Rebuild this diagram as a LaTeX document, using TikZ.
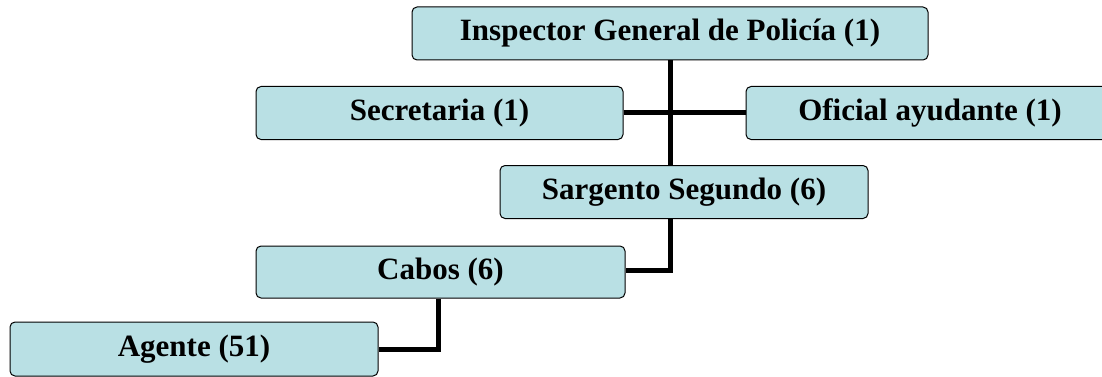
\documentclass[tikz,border=0pt]{standalone}
\usepackage{fontspec}
\setmainfont{Liberation Serif}
\usepackage{tikz}
\usetikzlibrary{calc}
\definecolor{cajafondo}{RGB}{185,224,228}

\tikzset{
  caja/.style={draw=black, line width=1pt, fill=cajafondo, rounded corners=5pt,
    minimum height=53pt, inner sep=0pt, font=\fontsize{31}{36}\selectfont\bfseries},
  enlace/.style={line width=5pt}
}

\begin{document}
\begin{tikzpicture}[x=1pt,y=-1pt]
  \useasboundingbox (0,0) rectangle (1102,377);

  % enlaces
  \coordinate (cruce) at (670,113);
  \coordinate (codo1) at (670,270);
  \coordinate (codo2) at (438,349);

  \node[caja, minimum width=516pt] (insp) at (670,33.5) {Inspector General de Policía (1)};
  \node[caja, minimum width=367pt] (secr) at (439.5,113) {Secretaria (1)};
  \node[caja, minimum width=368pt] (ofic) at (930,113) {Oficial ayudante (1)};
  \node[caja, minimum width=368pt] (sarg) at (684,192) {Sargento Segundo (6)};
  \node[caja, minimum width=369pt, minimum height=52pt] (cabos) at (440.5,272) {Cabos (6)};
  \node[caja, minimum width=368pt, minimum height=54pt] (agente) at (194,349) {Agente (51)};

  \draw[enlace] (insp.south -| cruce) -- (sarg.north -| cruce);
  \draw[enlace] (secr.east) -- (ofic.west);
  \draw[enlace] (sarg.south -| codo1) -- (codo1) -- (codo1 -| cabos.east);
  \draw[enlace] (cabos.south -| codo2) -- (codo2) -- (agente.east);
\end{tikzpicture}
\end{document}
